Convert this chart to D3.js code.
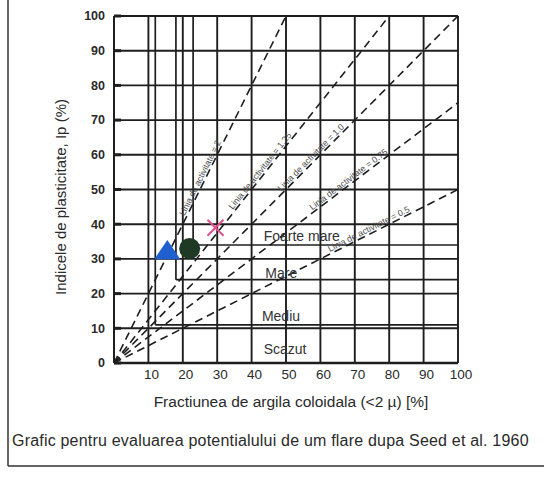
<!DOCTYPE html>
<html><head><meta charset="utf-8">
<script src="https://cdn.jsdelivr.net/npm/d3@7"></script>
<style>
html,body{margin:0;padding:0;background:#fff;}
svg{display:block;font-family:"Liberation Sans",Arial,sans-serif;}
</style></head>
<body>
<svg id="c" width="544" height="477"></svg>
<script>
// ---- data ----
const xTicks = [10,20,30,40,50,60,70,80,90,100];
const yTicks = [0,10,20,30,40,50,60,70,80,90,100];
const gridX = [10,20,30,40,50,60,70,80,90,100];
const gridY = [10,20,30,40,50,60,70,80,90,100];
// class boundaries (horizontal segment at value, starting at x; vertical segment at x from value up)
const boundaryX = [12, 18, 23];
const boundaryY = [11, 24, 34];
const activity = [2, 1.25, 1.0, 0.75, 0.5];
const activityEndX = [50, 80, 100, 100, 100];
const activityLabels = ["Linia de activitate = 2","Linia de activitate = 1.25","Linia de activitate = 1.0","Linia de activitate = 0.75","Linia de activitate = 0.5"];
const activityLabelX = [21, 35, 49, 58, 63];
const classNames = ["Foarte mare","Mare","Mediu","Scazut"];
const classY = [36.5, 26, 13.5, 4];
const classX = [43.5, 44, 43, 43.5];
const triPt = [15.5, 32];
const circPt = [22, 33];
const crossPt = [29.5, 39];

const svg = d3.select("#c");
const x = d3.scaleLinear().domain([0,100]).range([114,458]);
const y = d3.scaleLinear().domain([0,100]).range([363,16]);
const ink = "#1e1e1e";

// outer frame (left and bottom visible)
svg.append("line").attr("x1",8).attr("x2",8).attr("y1",0).attr("y2",466).attr("stroke","#333").attr("stroke-width",1.5);
svg.append("line").attr("x1",8).attr("x2",544).attr("y1",466).attr("y2",466).attr("stroke","#333").attr("stroke-width",1.5);

const g = svg.append("g");
// grid
g.selectAll(".gx").data(gridX).join("line")
  .attr("x1",d=>x(d)).attr("x2",d=>x(d)).attr("y1",y(0)).attr("y2",y(100))
  .attr("stroke",ink).attr("stroke-width",1.9);
g.selectAll(".gy").data(gridY).join("line")
  .attr("x1",x(0)).attr("x2",x(100)).attr("y1",d=>y(d)).attr("y2",d=>y(d))
  .attr("stroke",ink).attr("stroke-width",1.9);
// class boundary lines
boundaryX.forEach((bx,i)=>{
  g.append("line").attr("x1",x(bx)).attr("x2",x(bx)).attr("y1",y(boundaryY[i])).attr("y2",y(100)).attr("stroke",ink).attr("stroke-width",1.7);
  g.append("line").attr("x1",x(bx)).attr("x2",x(100)).attr("y1",y(boundaryY[i])).attr("y2",y(boundaryY[i])).attr("stroke",ink).attr("stroke-width",1.7);
});
// axes lines
g.append("line").attr("x1",x(0)).attr("x2",x(0)).attr("y1",y(0)).attr("y2",y(100)).attr("stroke",ink).attr("stroke-width",2);
g.append("line").attr("x1",x(0)).attr("x2",x(100)).attr("y1",y(0)).attr("y2",y(0)).attr("stroke",ink).attr("stroke-width",2.4);
// left tick marks (thick, inside)
g.selectAll(".yt").data(yTicks).join("line")
  .attr("x1",x(0)).attr("x2",x(0)+7).attr("y1",d=>y(d)).attr("y2",d=>y(d))
  .attr("stroke",ink).attr("stroke-width",3);

// activity lines
activity.forEach((a,i)=>{
  const ex = activityEndX[i];
  g.append("line").attr("x1",x(0)).attr("y1",y(0)).attr("x2",x(ex)).attr("y2",y(a*ex))
    .attr("stroke",ink).attr("stroke-width",1.6).attr("stroke-dasharray","8,5");
  const lx = activityLabelX[i];
  const ang = Math.atan2(y(a*lx)-y(0), x(lx)-x(0)) * 180/Math.PI;
  svg.append("text").attr("transform",`translate(${x(lx)},${y(a*lx)}) rotate(${ang}) translate(0,-2)`)
    .attr("font-size",8.8).attr("fill","#4a4a4a").text(activityLabels[i]);
});

// class labels
classNames.forEach((n,i)=>{
  svg.append("text").attr("x",x(classX[i])).attr("y",y(classY[i])).attr("dy","0.35em")
    .attr("font-size",14).attr("fill","#333").text(n);
});

// markers
const triS = 12;
svg.append("path").attr("d",`M${x(triPt[0])},${y(triPt[1])-triS} L${x(triPt[0])+triS+1},${y(triPt[1])+triS*0.6} L${x(triPt[0])-triS-1},${y(triPt[1])+triS*0.6} Z`)
  .attr("fill","#1f5fd0");
svg.append("circle").attr("cx",x(circPt[0])).attr("cy",y(circPt[1])).attr("r",10.5).attr("fill","#1f3a24");
const cs = 8;
svg.append("path").attr("d",`M${x(crossPt[0])-cs},${y(crossPt[1])-cs} L${x(crossPt[0])+cs},${y(crossPt[1])+cs} M${x(crossPt[0])-cs},${y(crossPt[1])+cs} L${x(crossPt[0])+cs},${y(crossPt[1])-cs}`)
  .attr("stroke","#e0508a").attr("stroke-width",2);

// tick labels
svg.selectAll(".ytl").data(yTicks).join("text")
  .attr("x",105).attr("y",d=>y(d)).attr("dy","0.35em").attr("text-anchor","end")
  .attr("font-size",12.5).attr("font-weight","bold").attr("fill","#2a2a2a").text(d=>d);
svg.selectAll(".xtl").data(xTicks).join("text")
  .attr("x",d=>x(d)+3).attr("y",y(0)+16).attr("text-anchor","middle")
  .attr("font-size",13.5).attr("fill","#2a2a2a").text(d=>d);

// axis titles
svg.append("text").attr("transform",`translate(66,197) rotate(-90)`).attr("text-anchor","middle")
  .attr("font-size",15).attr("fill","#2a2a2a").text("Indicele de plasticitate, Ip (%)");
svg.append("text").attr("x",291).attr("y",407).attr("text-anchor","middle")
  .attr("font-size",15.5).attr("fill","#2a2a2a").text("Fractiunea de argila coloidala (<2 µ) [%]");
svg.append("text").attr("x",12).attr("y",446).attr("letter-spacing",0.2)
  .attr("font-size",16).attr("fill","#2a2a2a").text("Grafic pentru evaluarea potentialului de um flare  dupa Seed et al. 1960");
</script>
</body></html>
